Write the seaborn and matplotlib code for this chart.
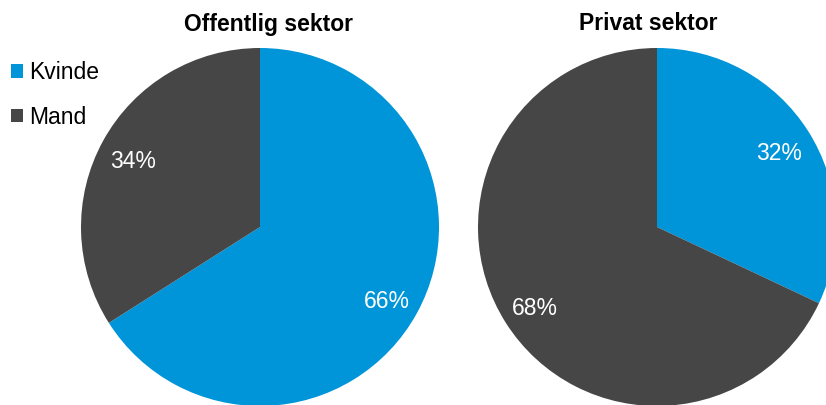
import matplotlib
matplotlib.use("Agg")
import matplotlib.pyplot as plt
from matplotlib.patches import Patch
from matplotlib.transforms import offset_copy
import seaborn as sns

sns.set_theme(style="white")
plt.rcParams['font.family'] = ['Liberation Sans', 'DejaVu Sans']
plt.rcParams['text.color'] = 'black'

# data
sektorer = ['Offentlig sektor', 'Privat sektor']
koen = ['Kvinde', 'Mand']
kvinde = [66, 32]
mand = [34, 68]
farver = ['#0094D8', '#464646']

W, H = 826, 405
fig = plt.figure(figsize=(W / 100, H / 100), dpi=100)

# pie centres and radius in pixels
centre_x = [260, 657]
centre_y = 227
r = 179

for i, navn in enumerate(sektorer):
    ax = fig.add_axes([(centre_x[i] - r) / W, (H - centre_y - r) / H, 2 * r / W, 2 * r / H])
    wedges, _, pct = ax.pie([kvinde[i], mand[i]], colors=farver, startangle=90, counterclock=False,
                            autopct='%d%%', pctdistance=0.81,
                            wedgeprops=dict(linewidth=0, edgecolor='none'),
                            textprops=dict(color='white', fontsize=16.5))
    for t in pct:
        t.set_transform(offset_copy(t.get_transform(), fig=fig, y=-3, units='points'))
    ax.set_aspect('equal')
    ax.set_xlim(-1, 1)
    ax.set_ylim(-1, 1)
    ax.axis('off')

fig.text(268 / W, 1 - 24 / H, sektorer[0], ha='center', va='center', fontsize=16.5,
         fontweight='bold', color='black')
fig.text(648 / W, 1 - 24 / H, sektorer[1], ha='center', va='center', fontsize=16.5,
         fontweight='bold', color='black')

handles = [Patch(facecolor=c, edgecolor='none') for c in farver]
leg = fig.legend(handles, koen, loc='upper left', bbox_to_anchor=(0.0, 1 - 50 / H),
                 frameon=False, fontsize=16.5, handlelength=0.52, handleheight=0.52,
                 handletextpad=0.26, labelspacing=0.95, borderaxespad=0.08)
for t in leg.get_texts():
    t.set_color('black')

fig.savefig('out.png', dpi=100)
